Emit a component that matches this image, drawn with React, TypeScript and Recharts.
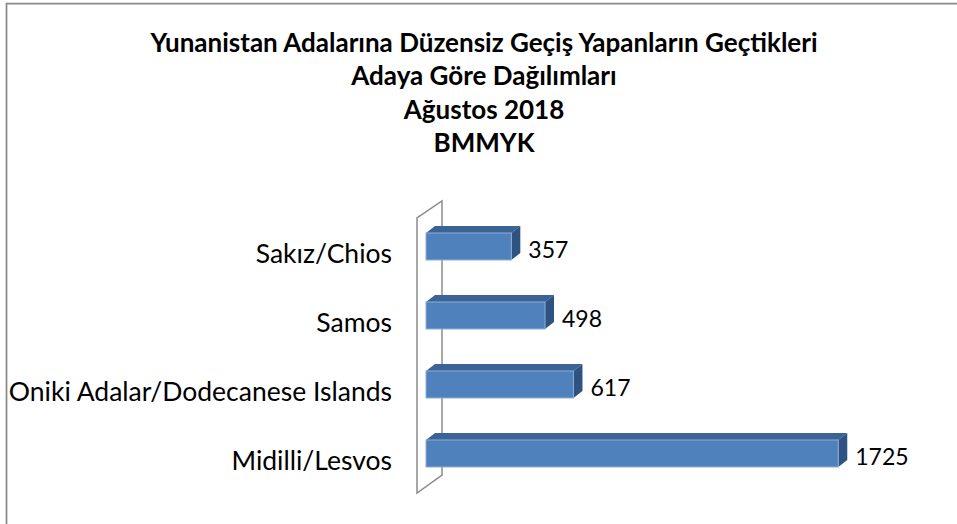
import React from 'react';
import { BarChart, Bar, XAxis, YAxis, LabelList, ReferenceArea } from 'recharts';

const categories = ['Sakız/Chios', 'Samos', 'Oniki Adalar/Dodecanese Islands', 'Midilli/Lesvos'];
const values = [357, 498, 617, 1725];
const titleLines = [
  'Yunanistan Adalarına Düzensiz Geçiş Yapanların Geçtikleri',
  'Adaya Göre Dağılımları',
  'Ağustos 2018',
  'BMMYK',
];

const data = categories.map((name, i) => ({ name, value: values[i] }));

const W = 957;
const H = 524;
const DX = 9;
const DY = 7;
const FONT = 'Lato, "Open Sans", sans-serif';

const Bar3D = (props: any) => {
  const { x, y, width, height } = props;
  if (width == null || height == null) return null;
  const r = x + width;
  const b = y + height;
  return (
    <g>
      <polygon
        points={`${x},${y} ${x + DX},${y - DY} ${r + DX},${y - DY} ${r},${y}`}
        fill="#3C6395"
      />
      <polygon
        points={`${r},${y} ${r + DX},${y - DY} ${r + DX},${b - DY} ${r},${b}`}
        fill="#2F5381"
      />
      <rect x={x} y={y} width={width} height={height} fill="#4F81BD" stroke="#8EADD6" strokeWidth={1} />
    </g>
  );
};

const Wall = (props: any) => {
  const { x, y, height } = props;
  const b = y + height;
  const fx = x - 9;
  const bx = x + 16;
  return (
    <polygon
      points={`${fx},${b + 5} ${fx},${y + 6} ${bx},${y - 11} ${bx},${b - 13}`}
      fill="none"
      stroke="#8C8C8C"
      strokeWidth={1.5}
    />
  );
};

const CatTick = (props: any) => {
  const { x, y, payload } = props;
  return (
    <text x={x} y={y + 6} textAnchor="end" dominantBaseline="central" fontFamily={FONT} fontSize={26.5} fill="#000">
      {payload.value}
    </text>
  );
};

const ValueLabel = (props: any) => {
  const { x, y, width, height, value } = props;
  return (
    <text
      x={x + width + 17}
      y={y + height / 2 + 2}
      textAnchor="start"
      dominantBaseline="central"
      fontFamily={FONT}
      fontSize={23}
      fill="#000"
    >
      {value}
    </text>
  );
};

export default function App() {
  return (
    <div style={{ position: 'absolute', left: 0, top: 0, width: W, height: H, background: '#fff', overflow: 'hidden' }}>
      <BarChart
        width={W}
        height={H}
        data={data}
        layout="vertical"
        margin={{ top: 212, right: 53, bottom: 36, left: 0 }}
        barSize={27}
      >
        <XAxis type="number" domain={[0, 2000]} hide />
        <YAxis
          type="category"
          dataKey="name"
          width={426}
          axisLine={false}
          tickLine={false}
          tickSize={0}
          tickMargin={34}
          tick={<CatTick />}
          interval={0}
        />
        <ReferenceArea
          x1={0}
          x2={2000}
          y1={categories[0]}
          y2={categories[categories.length - 1]}
          ifOverflow="visible"
          shape={<Wall />}
          zIndex={-10}
        />
        <Bar dataKey="value" shape={<Bar3D />} isAnimationActive={false}>
          <LabelList dataKey="value" content={<ValueLabel />} />
        </Bar>
      </BarChart>
      <svg width={W} height={H} style={{ position: 'absolute', left: 0, top: 0, pointerEvents: 'none' }}>
        <path d={`M6.5,${H} V3.5 H${W}`} fill="none" stroke="#8A8A8A" strokeWidth={1.75} />
        {titleLines.map((t, i) => (
          <text
            key={i}
            x={484}
            y={52 + i * 33.4}
            textAnchor="middle"
            fontFamily={FONT}
            fontWeight="bold"
            fontSize={26}
            fill="#000"
          >
            {t}
          </text>
        ))}
      </svg>
    </div>
  );
}
